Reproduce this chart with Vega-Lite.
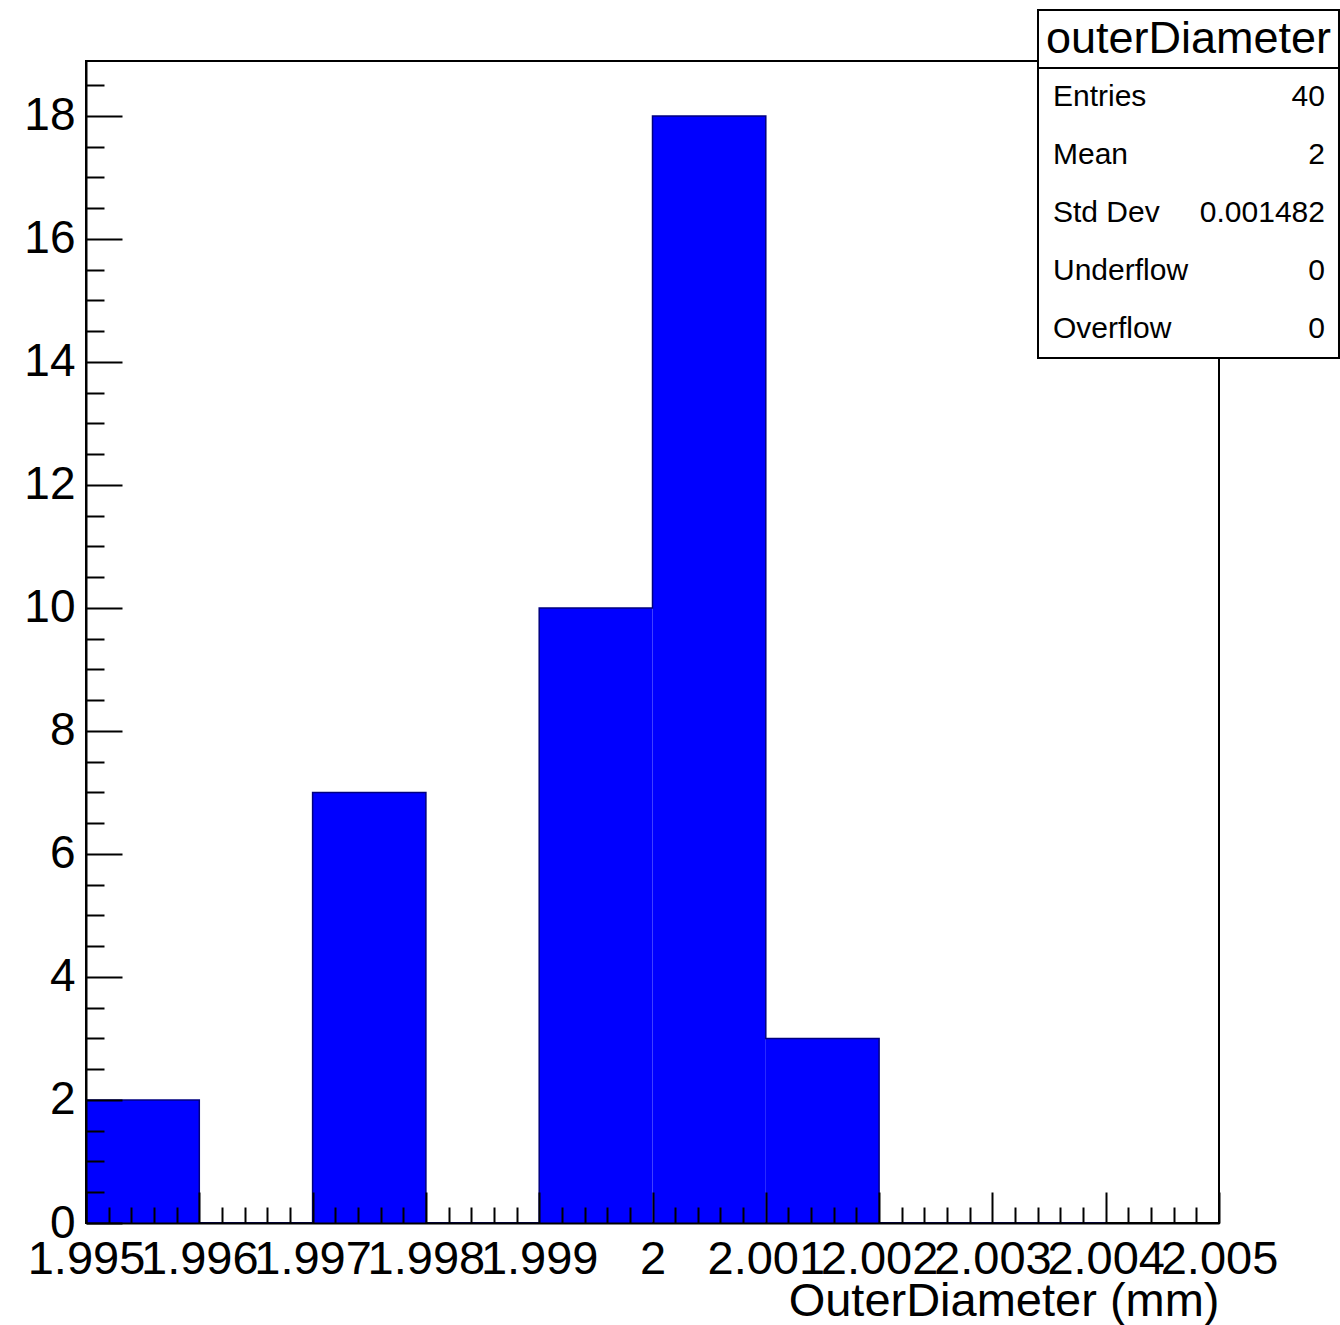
{
  "$schema": "https://vega.github.io/schema/vega-lite/v6.json",
  "width": 1133,
  "height": 1162,
  "autosize": {"type": "none"},
  "padding": {"left": 86, "top": 61, "right": 121, "bottom": 102},
  "background": "white",
  "config": {
    "view": {"stroke": "black", "strokeWidth": 2},
    "font": "Liberation Sans",
    "axis": {"grid": false, "domainColor": "black", "tickColor": "black", "labelColor": "black", "titleColor": "black", "labelFont": "Liberation Sans", "titleFont": "Liberation Sans"}
  },
  "datasets": {
    "hist": [
      {"lo": 1.995, "hi": 1.996, "count": 2},
      {"lo": 1.996, "hi": 1.997, "count": 0},
      {"lo": 1.997, "hi": 1.998, "count": 7},
      {"lo": 1.998, "hi": 1.999, "count": 0},
      {"lo": 1.999, "hi": 2.000, "count": 10},
      {"lo": 2.000, "hi": 2.001, "count": 18},
      {"lo": 2.001, "hi": 2.002, "count": 3},
      {"lo": 2.002, "hi": 2.003, "count": 0},
      {"lo": 2.003, "hi": 2.004, "count": 0},
      {"lo": 2.004, "hi": 2.005, "count": 0}
    ],
    "stats": [
      {"row": 0, "label": "outerDiameter", "value": ""},
      {"row": 1, "label": "Entries", "value": "40"},
      {"row": 2, "label": "Mean", "value": "2"},
      {"row": 3, "label": "Std Dev", "value": "0.001482"},
      {"row": 4, "label": "Underflow", "value": "0"},
      {"row": 5, "label": "Overflow", "value": "0"}
    ]
  },
  "layer": [
    {
      "data": {"name": "hist"},
      "layer": [
        {
          "mark": {"type": "rect", "color": "#0000ff"},
          "encoding": {
            "x": {"field": "lo", "type": "quantitative", "scale": {"domain": [1.995, 2.005], "nice": false, "zero": false},
              "axis": {"orient": "bottom", "zindex": 2, "values": [1.995, 1.996, 1.997, 1.998, 1.999, 2.0, 2.001, 2.002, 2.003, 2.004, 2.005], "format": "~g", "tickSize": -31, "tickWidth": 2, "domainWidth": 2, "labelFontSize": 47, "labelPadding": 44, "labelOverlap": false, "labelFlush": false, "labelBound": false, "title": "OuterDiameter (mm)", "titleFontSize": 47, "titleFontWeight": "normal", "titleAnchor": "end", "titleAlign": "right", "titlePadding": -4}},
            "x2": {"field": "hi"},
            "y": {"field": "count", "type": "quantitative", "scale": {"domain": [0, 18.894], "nice": false},
              "axis": {"orient": "left", "zindex": 2, "values": [0, 2, 4, 6, 8, 10, 12, 14, 16, 18], "tickSize": -36, "tickWidth": 2, "domainWidth": 2, "labelFontSize": 46, "labelPadding": 47, "labelOverlap": false, "labelFlush": false, "labelBound": false, "title": null}},
            "y2": {"datum": 0}
          }
        },
        {
          "mark": {"type": "line", "interpolate": "step-after", "stroke": "#000080", "strokeWidth": 1.5},
          "encoding": {
            "x": {"field": "lo", "type": "quantitative", "scale": {"domain": [1.995, 2.005], "nice": false, "zero": false},
              "axis": {"orient": "bottom", "zindex": 2, "values": [1.9952, 1.9954, 1.9956, 1.9958, 1.9962, 1.9964, 1.9966, 1.9968, 1.9972, 1.9974, 1.9976, 1.9978, 1.9982, 1.9984, 1.9986, 1.9988, 1.9992, 1.9994, 1.9996, 1.9998, 2.0002, 2.0004, 2.0006, 2.0008, 2.0012, 2.0014, 2.0016, 2.0018, 2.0022, 2.0024, 2.0026, 2.0028, 2.0032, 2.0034, 2.0036, 2.0038, 2.0042, 2.0044, 2.0046, 2.0048], "tickSize": -16, "tickWidth": 2, "domain": false, "labels": false, "title": null}},
            "y": {"field": "count", "type": "quantitative", "scale": {"domain": [0, 18.894], "nice": false},
              "axis": {"orient": "left", "zindex": 2, "values": [0.5, 1, 1.5, 2.5, 3, 3.5, 4.5, 5, 5.5, 6.5, 7, 7.5, 8.5, 9, 9.5, 10.5, 11, 11.5, 12.5, 13, 13.5, 14.5, 15, 15.5, 16.5, 17, 17.5, 18.5], "tickSize": -18, "tickWidth": 2, "domain": false, "labels": false, "title": null}}
          }
        }
      ],
      "resolve": {"axis": {"x": "independent", "y": "independent"}}
    },
    {
      "data": {"name": "stats"},
      "layer": [
        {
          "mark": {"type": "rect", "fill": "white", "stroke": "black", "strokeWidth": 2},
          "encoding": {
            "x": {"datum": 2.0034025, "type": "quantitative", "scale": {"domain": [1.995, 2.005], "nice": false, "zero": false}, "axis": null},
            "x2": {"datum": 2.0060591},
            "y": {"datum": -0.5, "type": "quantitative", "scale": {"domain": [0.3793, 20.4138], "reverse": true, "nice": false, "zero": false}, "axis": null},
            "y2": {"datum": 5.5}
          }
        },
        {
          "mark": {"type": "rect", "fill": "white", "stroke": "black", "strokeWidth": 2},
          "encoding": {
            "x": {"datum": 2.0034025, "type": "quantitative", "scale": {"domain": [1.995, 2.005], "nice": false, "zero": false}, "axis": null},
            "x2": {"datum": 2.0060591},
            "y": {"datum": -0.5, "type": "quantitative", "scale": {"domain": [0.3793, 20.4138], "reverse": true, "nice": false, "zero": false}, "axis": null},
            "y2": {"datum": 0.5}
          }
        },
        {
          "transform": [{"filter": "datum.row == 0"}],
          "mark": {"type": "text", "align": "center", "baseline": "middle", "fontSize": 45, "font": "Liberation Sans", "color": "black"},
          "encoding": {
            "x": {"datum": 2.0047308, "type": "quantitative", "scale": {"domain": [1.995, 2.005], "nice": false, "zero": false}, "axis": null},
            "y": {"field": "row", "type": "quantitative", "scale": {"domain": [0.3793, 20.4138], "reverse": true, "nice": false, "zero": false}, "axis": null},
            "text": {"field": "label"}
          }
        },
        {
          "transform": [{"filter": "datum.row > 0"}],
          "mark": {"type": "text", "align": "left", "baseline": "middle", "fontSize": 30, "font": "Liberation Sans", "color": "black"},
          "encoding": {
            "x": {"datum": 2.0035347, "type": "quantitative", "scale": {"domain": [1.995, 2.005], "nice": false, "zero": false}, "axis": null},
            "y": {"field": "row", "type": "quantitative", "scale": {"domain": [0.3793, 20.4138], "reverse": true, "nice": false, "zero": false}, "axis": null},
            "text": {"field": "label"}
          }
        },
        {
          "transform": [{"filter": "datum.row > 0"}],
          "mark": {"type": "text", "align": "right", "baseline": "middle", "fontSize": 30, "font": "Liberation Sans", "color": "black"},
          "encoding": {
            "x": {"datum": 2.0059355, "type": "quantitative", "scale": {"domain": [1.995, 2.005], "nice": false, "zero": false}, "axis": null},
            "y": {"field": "row", "type": "quantitative", "scale": {"domain": [0.3793, 20.4138], "reverse": true, "nice": false, "zero": false}, "axis": null},
            "text": {"field": "value"}
          }
        }
      ]
    }
  ],
  "resolve": {"scale": {"y": "independent"}, "axis": {"x": "independent", "y": "independent"}}
}
